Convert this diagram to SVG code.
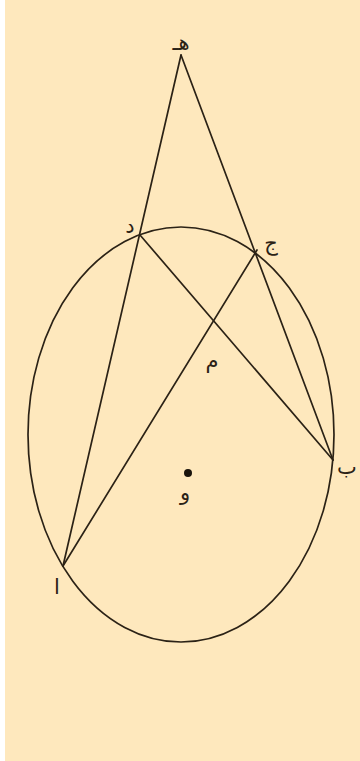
<svg xmlns="http://www.w3.org/2000/svg" width="360" height="761" viewBox="0 0 360 761">
<style>
.ln{stroke:#2b2216;stroke-width:1.7;fill:none;stroke-linecap:round}
.lb{font-family:"DejaVu Sans",sans-serif;font-size:21px;fill:#2b2216;text-anchor:middle}
</style>
<rect x="0" y="0" width="360" height="761" fill="#ffffff"/>
<rect x="5" y="0" width="355" height="761" fill="#fee8bd"/>
<g id="connectors">
<ellipse class="ln" cx="181" cy="434.5" rx="153" ry="207.5"/>
<line class="ln" x1="181" y1="55" x2="63" y2="566"/>
<line class="ln" x1="181" y1="55" x2="333" y2="460"/>
<line class="ln" x1="140" y1="235" x2="333" y2="460"/>
<line class="ln" x1="257" y1="250" x2="63" y2="566"/>
</g>
<g id="node-he"><text class="lb" x="181" y="50">هـ</text></g>
<g id="node-dal"><text class="lb" x="130" y="233">د</text></g>
<g id="node-jim"><text class="lb" x="271" y="250">ج</text></g>
<g id="node-mim"><text class="lb" x="212" y="368">م</text></g>
<g id="node-ba"><text class="lb" x="347" y="474">ب</text></g>
<g id="node-waw"><circle cx="188" cy="473" r="4" fill="#1a140c"/><text class="lb" x="185" y="500">و</text></g>
<g id="node-alif"><text class="lb" x="57" y="594">ا</text></g>
</svg>
